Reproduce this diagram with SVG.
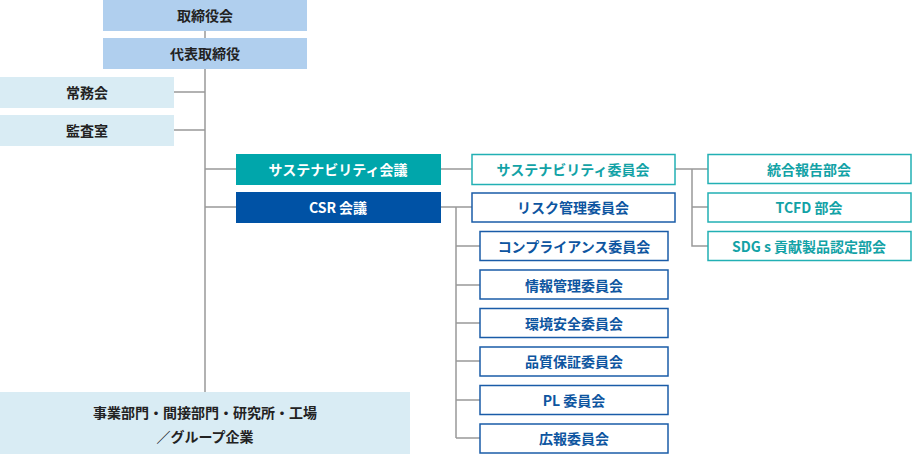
<svg xmlns="http://www.w3.org/2000/svg" width="912" height="454" viewBox="0 0 912 454">
<style>
text{font-family:"Noto Sans CJK JP","Noto Sans",sans-serif;font-size:14px;font-weight:bold;text-anchor:middle;dominant-baseline:central}
.top rect{fill:#b0cfee}
.side rect{fill:#d9ecf4}
.dark{fill:#222}
.tc rect{fill:#fff;stroke:#22b0b4;stroke-width:1.5}
.tc text{fill:#12a2a6}
.bc rect{fill:#fff;stroke:#1a5ca8;stroke-width:1.5}
.bc text{fill:#0d55a0}
.w{fill:#fff}
#conn path{fill:none;stroke:#999;stroke-width:1.5}
</style>
<g id="conn">
<path d="M205 31V392M174 92H205M174 130H205M205 169H236M205 207H236M441 169H472M441 207H472M456 207V438M456 246H480M456 285H480M456 323H480M456 361H480M456 400H480M456 438H480M675 169H708M692 169V246H708M692 207H708"/>
</g>
<g id="n1" class="top"><rect x="103" y="0" width="204" height="31"/><text class="dark" x="205" y="15">取締役会</text></g>
<g id="n2" class="top"><rect x="103" y="38" width="204" height="31"/><text class="dark" x="205" y="53">代表取締役</text></g>
<g id="n3" class="side"><rect x="0" y="77" width="174" height="31"/><text class="dark" x="87" y="92">常務会</text></g>
<g id="n4" class="side"><rect x="0" y="115" width="174" height="31"/><text class="dark" x="87" y="130">監査室</text></g>
<g id="n5"><rect x="236" y="154" width="205" height="31" fill="#00a6ab"/><text class="w" x="338" y="169">サステナビリティ会議</text></g>
<g id="n6"><rect x="236" y="192" width="205" height="31" fill="#0052a5"/><text class="w" x="338" y="207">CSR 会議</text></g>
<g id="n7" class="side"><rect x="0" y="392" width="410" height="62"/><text class="dark" x="205" y="412">事業部門・間接部門・研究所・工場</text><text class="dark" x="205" y="436">／グループ企業</text></g>
<g id="n8" class="tc"><rect x="472" y="154.5" width="203" height="30"/><text x="573" y="169">サステナビリティ委員会</text></g>
<g id="n9" class="bc"><rect x="472" y="193" width="203" height="29"/><text x="573" y="207">リスク管理委員会</text></g>
<g id="n10" class="bc"><rect x="480" y="231.5" width="188" height="29"/><text x="574" y="246">コンプライアンス委員会</text></g>
<g id="n11" class="bc"><rect x="480" y="270" width="188" height="29"/><text x="574" y="285">情報管理委員会</text></g>
<g id="n12" class="bc"><rect x="480" y="308.5" width="188" height="29"/><text x="574" y="323">環境安全委員会</text></g>
<g id="n13" class="bc"><rect x="480" y="347" width="188" height="29"/><text x="574" y="361">品質保証委員会</text></g>
<g id="n14" class="bc"><rect x="480" y="385.5" width="188" height="29"/><text x="574" y="400">PL 委員会</text></g>
<g id="n15" class="bc"><rect x="480" y="424" width="188" height="29"/><text x="574" y="438">広報委員会</text></g>
<g id="n16" class="tc"><rect x="708" y="154.5" width="203" height="29"/><text x="809" y="169">統合報告部会</text></g>
<g id="n17" class="tc"><rect x="708" y="193" width="203" height="29"/><text x="809" y="207">TCFD 部会</text></g>
<g id="n18" class="tc"><rect x="708" y="231.5" width="203" height="29"/><text x="809" y="246">SDG s 貢献製品認定部会</text></g>
</svg>
